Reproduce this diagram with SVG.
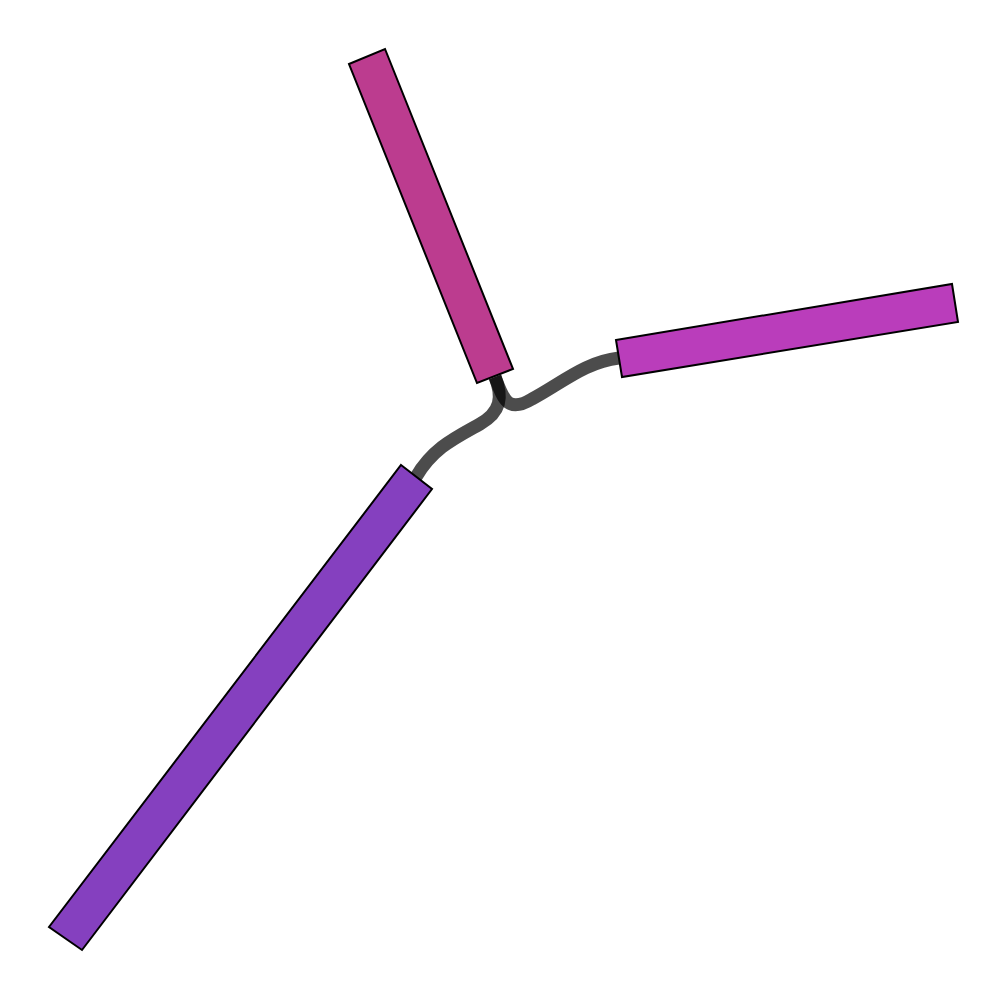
<svg xmlns="http://www.w3.org/2000/svg" width="1008" height="1000" viewBox="0 0 1008 1000">
<style>
.h{stroke:#000;stroke-width:2;stroke-linejoin:miter}
.c{fill:none;stroke:#000;stroke-opacity:0.7;stroke-width:13;stroke-linecap:butt}
</style>
<rect width="1008" height="1000" fill="#fff"/>
<g id="connectors">
<path class="c" d="M 495 377 C 503 398, 507 414, 532 399 C 562 383, 585 362, 619 358"/>
<path class="c" d="M 495 377 C 503 397, 501 412, 480 424 C 455 438, 433 448, 416 477"/>
</g>
<g id="helix-top"><polygon class="h" fill="#bc3c8f" points="349,64 385,49 513,369 477,383"/></g>
<g id="helix-right"><polygon class="h" fill="#ba3dbb" points="616,340 952,284 958,322 622,377"/></g>
<g id="helix-bottom"><polygon class="h" fill="#8540bf" points="401,465 432,489 82,950 49,927"/></g>
</svg>
